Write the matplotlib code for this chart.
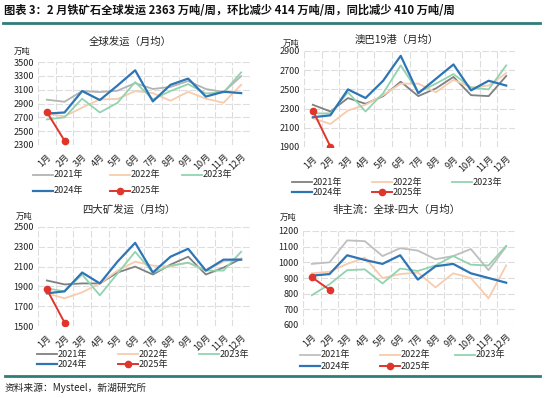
import numpy as np
import matplotlib
matplotlib.use("Agg")
import matplotlib.pyplot as plt
from matplotlib.lines import Line2D

plt.rcParams['font.family'] = ['Noto Sans CJK SC', 'DejaVu Sans']

# ---- data (万吨, monthly averages) ----
months = ['1月', '2月', '3月', '4月', '5月', '6月', '7月', '8月', '9月', '10月', '11月', '12月']
years = ['2021年', '2022年', '2023年', '2024年', '2025年']

global_2021 = [2955, 2925, 3080, 3065, 3085, 3195, 3110, 3140, 3225, 3110, 3065, 3295]
global_2022 = [2750, 2715, 2840, 2960, 2965, 3080, 3050, 2940, 3070, 2970, 2910, 3170]
global_2023 = [2670, 2700, 2970, 2770, 2910, 3210, 2960, 3080, 3180, 3045, 3060, 3350]
global_2024 = [2755, 2770, 3080, 2950, 3160, 3380, 2930, 3170, 3260, 3000, 3070, 3050]
global_2025 = [2777, 2363]

port19_2021 = [2340, 2270, 2410, 2350, 2430, 2580, 2430, 2510, 2630, 2440, 2430, 2640]
port19_2022 = [2200, 2140, 2280, 2340, 2440, 2560, 2560, 2470, 2600, 2520, 2540, 2670]
port19_2023 = [2250, 2250, 2470, 2270, 2460, 2750, 2470, 2560, 2660, 2520, 2500, 2750]
port19_2024 = [2210, 2230, 2500, 2410, 2590, 2850, 2460, 2610, 2760, 2490, 2590, 2540]
port19_2025 = [2280, 1905]

big4_2021 = [1960, 1920, 1930, 1930, 2040, 2100, 2020, 2120, 2200, 2020, 2090, 2180]
big4_2022 = [1830, 1780, 1840, 1930, 2060, 2150, 2110, 2100, 2140, 2060, 2150, 2180]
big4_2023 = [1880, 1850, 2020, 1810, 2030, 2250, 2040, 2110, 2140, 2060, 2060, 2250]
big4_2024 = [1830, 1850, 2040, 1930, 2150, 2340, 2040, 2200, 2280, 2060, 2170, 2170]
big4_2025 = [1870, 1535]

other_2021 = [990, 1000, 1140, 1135, 1040, 1090, 1075, 1020, 1040, 1085, 950, 1100]
other_2022 = [930, 940, 990, 1030, 900, 925, 935, 840, 930, 900, 770, 980]
other_2023 = [790, 860, 950, 955, 865, 960, 945, 980, 1040, 985, 980, 1105]
other_2024 = [915, 925, 1045, 1015, 990, 1045, 890, 975, 990, 930, 900, 870]
other_2025 = [905, 825]

W, H = 550, 398
ORANGE = '#F8CBAD'
GREEN = '#92D3AF'
BLUE = '#2E75B6'
RED = '#E0352B'
TEAL = '#2E7D78'


def fx(px):
    return px / W


def fy(py):
    return 1 - py / H


def draw_legend(fig, lines, col_x, row_y):
    # Excel-like legend: row 1 = 2021 2022 2023, row 2 = 2024 2025
    slots = [(0, 0), (1, 0), (2, 0), (0, 1), (1, 1)]
    for ln, lab, (c, r) in zip(lines, years, slots):
        x0, y0 = col_x[c], row_y[r]
        seg = Line2D([fx(x0), fx(x0 + 20)], [fy(y0), fy(y0)], color=ln.get_color(),
                     lw=ln.get_linewidth())
        fig.add_artist(seg)
        if ln.get_marker() not in (None, 'None', ''):
            fig.add_artist(Line2D([fx(x0 + 10)], [fy(y0)], marker='o', markersize=4.5,
                                  color=ln.get_color()))
        fig.text(fx(x0 + 21), fy(y0), lab, ha='left', va='center', fontsize=6.5,
                 color='#222222')


def draw_panel(fig, box, title, title_xy, unit_xy, series, gray, ylim, ystep,
               col_x, row_y):
    x0, y0, x1, y1 = box
    ax = fig.add_axes([fx(x0), fy(y1), (x1 - x0) / W, (y1 - y0) / H])
    x = np.arange(12)
    cols = [gray, ORANGE, GREEN, BLUE]
    widths = [1.3, 1.3, 1.3, 1.6]
    lines = []
    for s, c, lw in zip(series[:4], cols, widths):
        lines += ax.plot(x, s, color=c, lw=lw)
    lines += ax.plot(x[:len(series[4])], series[4], color=RED, lw=1.4, marker='o',
                     markersize=4.5)
    ax.set_xlim(-0.5, 11.5)
    ax.set_ylim(*ylim)
    ax.set_yticks(np.arange(ylim[0], ylim[1] + 1, ystep))
    ax.set_xticks(x)
    ax.set_xticklabels(months, rotation=45, ha='right', rotation_mode='anchor')
    ax.set_xticks(np.arange(-0.5, 12, 1), minor=True)
    ax.tick_params(axis='both', which='both', length=0, labelsize=6.5, colors='#222222')
    ax.tick_params(axis='x', pad=5)
    ax.tick_params(axis='y', pad=3)
    ax.grid(axis='y', which='major', color='#DDDDDD', lw=0.8, ls=(0, (6, 2)))
    ax.grid(axis='x', which='minor', color='#DDDDDD', lw=0.8, ls=(0, (6, 2)))
    for sp in ax.spines.values():
        sp.set_visible(False)
    fig.text(fx(title_xy[0]), fy(title_xy[1]), title, ha='center', va='center',
             fontsize=7.5, color='#222222')
    fig.text(fx(unit_xy[0]), fy(unit_xy[1]), '万吨', ha='center', va='center',
             fontsize=6, color='#222222')
    draw_legend(fig, lines, col_x, row_y)
    return ax


fig = plt.figure(figsize=(W / 100, H / 100), dpi=100)

fig.text(fx(4), fy(10),
         '图表 3：2 月铁矿石全球发运 2363 万吨/周，环比减少 414 万吨/周，同比减少 410 万吨/周',
         ha='left', va='center', fontsize=8.1, fontweight='bold', color='#111111')
fig.add_artist(Line2D([fx(3), fx(540)], [fy(23), fy(23)], color=TEAL, lw=2))
fig.add_artist(Line2D([fx(5), fx(540)], [fy(376), fy(376)], color=TEAL, lw=2))
fig.text(fx(5), fy(388), '资料来源：Mysteel，新湖研究所', ha='left', va='center',
         fontsize=7, color='#222222')

draw_panel(fig, (38, 62, 250, 145), '全球发运（月均）', (130, 42), (22, 51),
           [global_2021, global_2022, global_2023, global_2024, global_2025],
           '#B3B3B3', (2300, 3500), 200, (33, 110, 182), (175, 191))
draw_panel(fig, (304, 51, 515, 147), '澳巴19港（月均）', (397, 40), (291, 43),
           [port19_2021, port19_2022, port19_2023, port19_2024, port19_2025],
           '#808080', (1900, 2900), 200, (292, 372, 452), (182, 192))
draw_panel(fig, (38, 227, 250, 326), '四大矿发运（月均）', (129, 210), (24, 216),
           [big4_2021, big4_2022, big4_2023, big4_2024, big4_2025],
           '#808080', (1500, 2500), 200, (37, 118, 199), (354, 364))
draw_panel(fig, (303, 231, 515, 325), '非主流：全球-四大（月均）', (396, 210), (288, 217),
           [other_2021, other_2022, other_2023, other_2024, other_2025],
           '#BFBFBF', (600, 1200), 100, (300, 380, 455), (355, 366))

fig.savefig('out.png', dpi=100)
